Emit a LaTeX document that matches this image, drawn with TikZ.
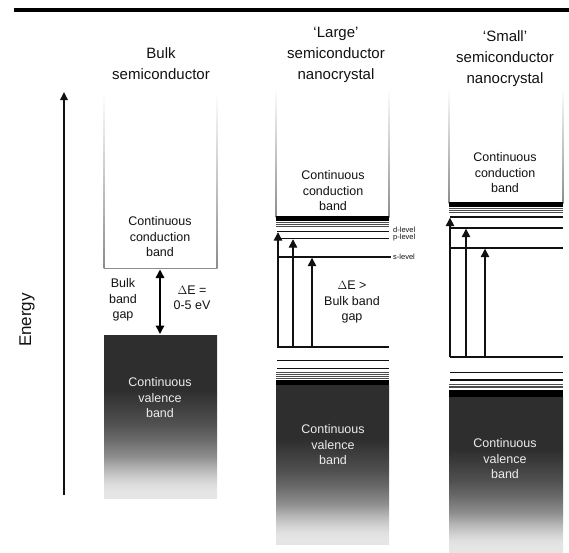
\documentclass[tikz,border=0pt]{standalone}
\usepackage{fontspec}
\setmainfont{Liberation Sans}
\usetikzlibrary{arrows.meta}

\definecolor{ink}{HTML}{111111}
\definecolor{edge}{HTML}{8C8C8C}
\definecolor{vtext}{HTML}{ECECEC}
\definecolor{g1}{HTML}{E5E5E5}
\definecolor{g2}{HTML}{DEDEDE}
\definecolor{g3}{HTML}{D0D0D0}
\definecolor{g4}{HTML}{B5B5B5}
\definecolor{g5}{HTML}{8F8F8F}
\definecolor{g6}{HTML}{6A6A6A}
\definecolor{g7}{HTML}{505050}
\definecolor{g8}{HTML}{2E2E2E}

% valence band: dark at the top, fading to pale grey near the bottom
\pgfdeclareverticalshading{valence}{100bp}{%
  color(0bp)=(g1); color(27bp)=(g1); color(29bp)=(g2); color(31bp)=(g3);
  color(34bp)=(g4); color(37.6bp)=(g5); color(43bp)=(g6); color(48bp)=(g7);
  color(58bp)=(g8); color(100bp)=(g8)}

\tikzset{
  title/.style={align=center, font=\fontsize{15}{21}\selectfont, text=ink},
  bandtext/.style={align=center, font=\fontsize{12.5}{15.5}\selectfont, text=ink},
  valtext/.style={align=center, font=\fontsize{12.5}{15.5}\selectfont, text=vtext},
  lvltext/.style={anchor=west, inner sep=0pt, font=\fontsize{7.5}{8}\selectfont, text=ink},
  level/.style={draw=ink, line width=1.4pt},
  dense/.style={draw=black, line width=1.6pt},
  densegray/.style={draw=black!70, line width=1pt},
  excite/.style={draw=ink, line width=1.4pt, -{Triangle[length=8.5pt,width=8.5pt]}},
  gaparrow/.style={draw=black, line width=1.5pt,
    {Triangle[length=8.5pt,width=8.5pt]}-{Triangle[length=8.5pt,width=8.5pt]}},
  axis/.style={draw=ink, line width=1.3pt, -{Triangle[length=8pt,width=7.5pt]}},
}

\begin{document}
\begin{tikzpicture}[x=1pt, y=-1pt]
\useasboundingbox (0,0) rectangle (569,552);

% heading rule
\fill[black] (14,8) rectangle (569,12.3);

% energy axis
\coordinate (axis-lo) at (64,495);
\coordinate (axis-hi) at (64,92);
\draw[axis] (axis-lo) -- (axis-hi);
\node[rotate=90, font=\fontsize{17}{20}\selectfont, text=ink] (energy) at (27,320) {Energy};

% column titles
\node[title] (t-bulk)  at (161,64) {Bulk\\semiconductor};
\node[title] (t-large) at (336,55) {‘Large’\\semiconductor\\nanocrystal};
\node[title] (t-small) at (505,59) {‘Small’\\semiconductor\\nanocrystal};

% ---------- bulk semiconductor ----------
\shade[top color=white, bottom color=edge] (103.5,92) rectangle (104.5,268);
\shade[top color=white, bottom color=edge] (216.5,92) rectangle (217.5,268);
\draw[edge, line width=1pt] (104,268) -- (217,268);
\node[bandtext] (b-cb) at (160,237) {Continuous\\conduction\\band};

\shade[shading=valence] (104,335) rectangle (217,498);
\node[valtext] (b-vb) at (160,398) {Continuous\\valence\\band};

\coordinate (b-gap-top) at (160,269.5);
\coordinate (b-gap-bot) at (160,334);
\draw[gaparrow] (b-gap-top) -- (b-gap-bot);
\node[bandtext] (b-gaplbl) at (123,300) {Bulk\\band\\gap};
\node[bandtext] (b-de) at (192,298) {$\Delta$E =\\0-5 eV};

% ---------- large nanocrystal ----------
\shade[top color=white, bottom color=edge] (275.5,88) rectangle (276.5,217);
\shade[top color=white, bottom color=edge] (388.5,88) rectangle (389.5,217);
\node[bandtext] (l-cb) at (333,191) {Continuous\\conduction\\band};
\foreach \y in {217,218.5,220} \draw[dense] (276,\y) -- (389,\y);
\foreach \y in {222,224,226} \draw[densegray] (276,\y) -- (389,\y);

\draw[level] (277,231.5) -- (389,231.5);
\draw[level] (277,238.5) -- (389,238.5);
\draw[level] (277,257) -- (391,257);
\node[lvltext] (l-d) at (393,229.5) {d-level};
\node[lvltext] (l-p) at (393,237.5) {p-level};
\node[lvltext] (l-s) at (393,257) {s-level};

\draw[level] (277,347) -- (389,347);
\coordinate (l-b1) at (278,347); \coordinate (l-u1) at (278,232.2);
\coordinate (l-b2) at (293,347); \coordinate (l-u2) at (293,239.2);
\coordinate (l-b3) at (312,347); \coordinate (l-u3) at (312,257.7);
\draw[excite] (l-b1) -- (l-u1);
\draw[excite] (l-b2) -- (l-u2);
\draw[excite] (l-b3) -- (l-u3);
\node[bandtext] (l-de) at (352,302) {$\Delta$E >\\Bulk band\\gap};

\draw[level] (277,360.7) -- (389,360.7);
\draw[level] (277,368.3) -- (389,368.3);
\foreach \y in {372.7,374.5,376.3,378.1} \draw[densegray] (276,\y) -- (389,\y);
\fill[black] (276,379.5) rectangle (389,385);
\shade[shading=valence] (276,385) rectangle (389,544);
\node[valtext] (l-vb) at (333,445) {Continuous\\valence\\band};

% ---------- small nanocrystal ----------
\shade[top color=white, bottom color=edge] (448.5,88) rectangle (449.5,203);
\shade[top color=white, bottom color=edge] (562.5,88) rectangle (563.5,203);
\node[bandtext] (s-cb) at (505,173) {Continuous\\conduction\\band};
\foreach \y in {203,204.5,206} \draw[dense] (449,\y) -- (563,\y);
\foreach \y in {208,210,212} \draw[densegray] (449,\y) -- (563,\y);

\draw[level] (450,217) -- (563,217);
\draw[level] (450,228) -- (563,228);
\draw[level] (450,248) -- (563,248);

\draw[level] (450,357) -- (563,357);
\coordinate (s-b1) at (450,357); \coordinate (s-u1) at (450,217.7);
\coordinate (s-b2) at (466,357); \coordinate (s-u2) at (466,228.7);
\coordinate (s-b3) at (485,357); \coordinate (s-u3) at (485,248.7);
\draw[excite] (s-b1) -- (s-u1);
\draw[excite] (s-b2) -- (s-u2);
\draw[excite] (s-b3) -- (s-u3);

\draw[level] (450,372.3) -- (563,372.3);
\draw[level] (450,380) -- (563,380);
\foreach \y in {384.3,386,387.7} \draw[densegray] (449,\y) -- (563,\y);
\fill[black] (449,389.5) rectangle (563,397);
\shade[shading=valence] (449,397) rectangle (563,552);
\node[valtext] (s-vb) at (505,459) {Continuous\\valence\\band};
\end{tikzpicture}
\end{document}
